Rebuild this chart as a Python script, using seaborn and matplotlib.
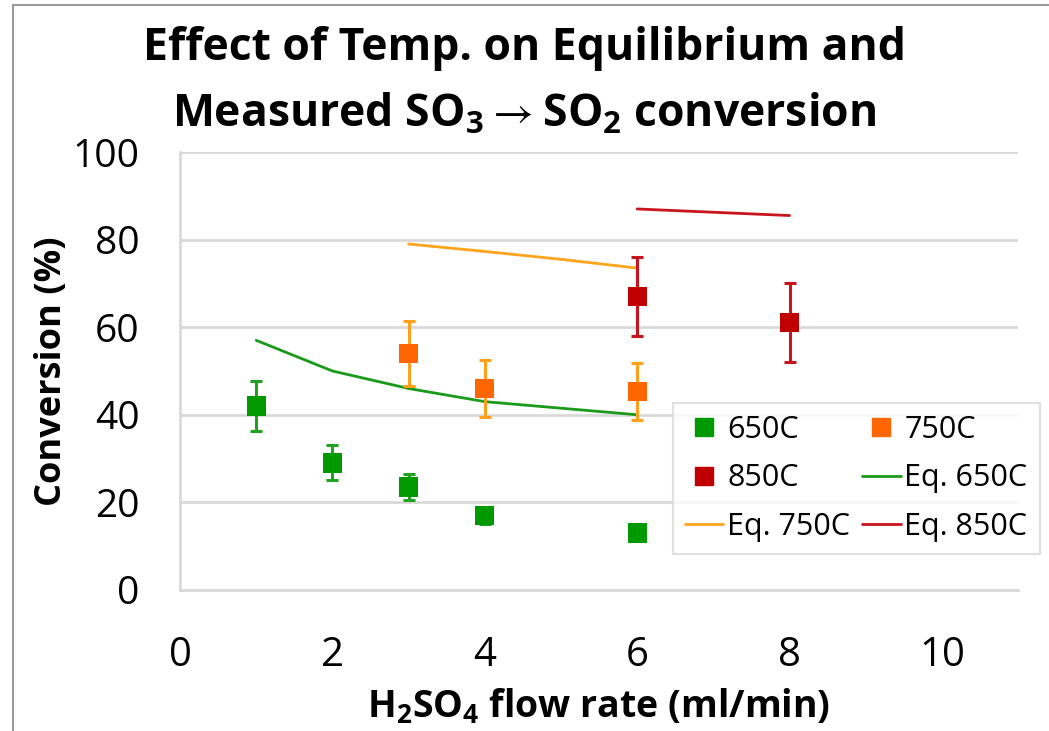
import numpy as np
import pandas as pd
import matplotlib
matplotlib.use('Agg')
import matplotlib.pyplot as plt
import seaborn as sns
from matplotlib.lines import Line2D

# measured conversion (%) vs H2SO4 flow rate (ml/min)
x_650 = [1, 2, 3, 4, 6]
y_650 = [42, 29, 23.5, 17, 13]
err_650 = [5.8, 4, 3, 2, 1.5]

x_750 = [3, 4, 6]
y_750 = [54, 46, 45.4]
err_750 = [7.5, 6.5, 6.5]

x_850 = [6, 8]
y_850 = [67, 61]
err_850 = [9, 9]

# equilibrium curves
eq_x_650 = [1, 2, 3, 4, 5, 6]
eq_y_650 = [57, 50, 46, 43, 41.5, 40]
eq_x_750 = [3, 4, 5, 6]
eq_y_750 = [79, 77.3, 75.5, 73.5]
eq_x_850 = [6, 8]
eq_y_850 = [87, 85.5]

sns.set_style('white')
plt.rcParams['font.family'] = ['Open Sans', 'DejaVu Sans']
plt.rcParams['mathtext.fontset'] = 'custom'
plt.rcParams['mathtext.rm'] = 'Open Sans:bold'
plt.rcParams['mathtext.bf'] = 'Open Sans:bold'
plt.rcParams['mathtext.fallback'] = 'stixsans'
plt.rcParams['text.color'] = 'black'
plt.rcParams['axes.labelcolor'] = 'black'

meas = pd.concat([
    pd.DataFrame({'x': x_650, 'y': y_650, 'err': err_650, 'T': '650C'}),
    pd.DataFrame({'x': x_750, 'y': y_750, 'err': err_750, 'T': '750C'}),
    pd.DataFrame({'x': x_850, 'y': y_850, 'err': err_850, 'T': '850C'}),
])
eq = pd.concat([
    pd.DataFrame({'x': eq_x_650, 'y': eq_y_650, 'T': 'Eq. 650C'}),
    pd.DataFrame({'x': eq_x_750, 'y': eq_y_750, 'T': 'Eq. 750C'}),
    pd.DataFrame({'x': eq_x_850, 'y': eq_y_850, 'T': 'Eq. 850C'}),
])

mark_cols = {'650C': '#009A00', '750C': '#FF6600', '850C': '#C00000'}
bar_cols = {'650C': '#1FA21F', '750C': '#FF9F1A', '850C': '#C8141E'}
line_cols = {'Eq. 650C': '#1A9A1A', 'Eq. 750C': '#FFA41C', 'Eq. 850C': '#C8141E'}

fig = plt.figure(figsize=(10.49, 7.31), dpi=100)
ax = fig.add_axes([0.1716, 0.193, 0.799, 0.599])

sns.lineplot(data=eq, x='x', y='y', hue='T', palette=line_cols, lw=2, ax=ax, legend=False)
for t, g in meas.groupby('T'):
    ax.errorbar(g['x'], g['y'], yerr=g['err'], fmt='none', ecolor=bar_cols[t],
                elinewidth=2.2, capsize=4, capthick=2.2, zorder=3)
sns.scatterplot(data=meas, x='x', y='y', hue='T', palette=mark_cols, marker='s',
                s=190, edgecolor='none', ax=ax, legend=False, zorder=4)

ax.set_xlim(0, 11)
ax.set_ylim(0, 100)
ax.set_xticks(range(0, 11, 2))
ax.set_yticks(range(0, 101, 20))
ax.yaxis.grid(True, color='#D9D9D9', lw=2)
ax.set_axisbelow(True)
for s in ['top', 'right']:
    ax.spines[s].set_visible(False)
for s in ['left', 'bottom']:
    ax.spines[s].set_color('#D9D9D9')
    ax.spines[s].set_linewidth(2)
ax.tick_params(axis='x', length=11, width=1.2, color='#D9D9D9', labelcolor='black',
               labelsize=29, pad=22)
ax.tick_params(axis='y', length=11, width=1.5, color='#D9D9D9', labelsize=28,
               labelcolor='black', pad=18)

ax.set_xlabel(r'H$_2$SO$_4$ flow rate (ml/min)', fontsize=27, fontweight='bold', labelpad=8)
ax.set_ylabel('Conversion (%)', fontsize=26, fontweight='bold', labelpad=2)
fig.suptitle('Effect of Temp. on Equilibrium and\nMeasured SO$_3\\rightarrow$SO$_2$ conversion',
             fontsize=32, fontweight='bold', y=0.965, linespacing=1.65)

# legend in row order: 650C, 750C / 850C, Eq.650C / Eq.750C, Eq.850C
def mk(t):
    return Line2D([], [], ls='none', marker='s', ms=13, color=mark_cols[t], label=t)
def ln(t):
    return Line2D([], [], lw=2, color=line_cols[t], label=t)
handles = [mk('650C'), mk('850C'), ln('Eq. 750C'), mk('750C'), ln('Eq. 650C'), ln('Eq. 850C')]
leg = ax.legend(handles=handles, ncol=2, loc='upper right', bbox_to_anchor=(0.991, 0.449),
                bbox_transform=fig.transFigure, borderaxespad=0, fontsize=22, frameon=True,
                fancybox=False, handlelength=1.25, handletextpad=0.12, columnspacing=0.4,
                labelspacing=0.6, borderpad=0.4)
leg.get_frame().set_edgecolor('#D9D9D9')
leg.get_frame().set_linewidth(1.5)

fig.add_artist(Line2D([0.012, 1], [0.993, 0.993], color='#9A9A9A', lw=1.5, transform=fig.transFigure))
fig.add_artist(Line2D([0.012, 0.012], [0, 0.993], color='#9A9A9A', lw=1.5, transform=fig.transFigure))

fig.savefig('out.png', dpi=100)
